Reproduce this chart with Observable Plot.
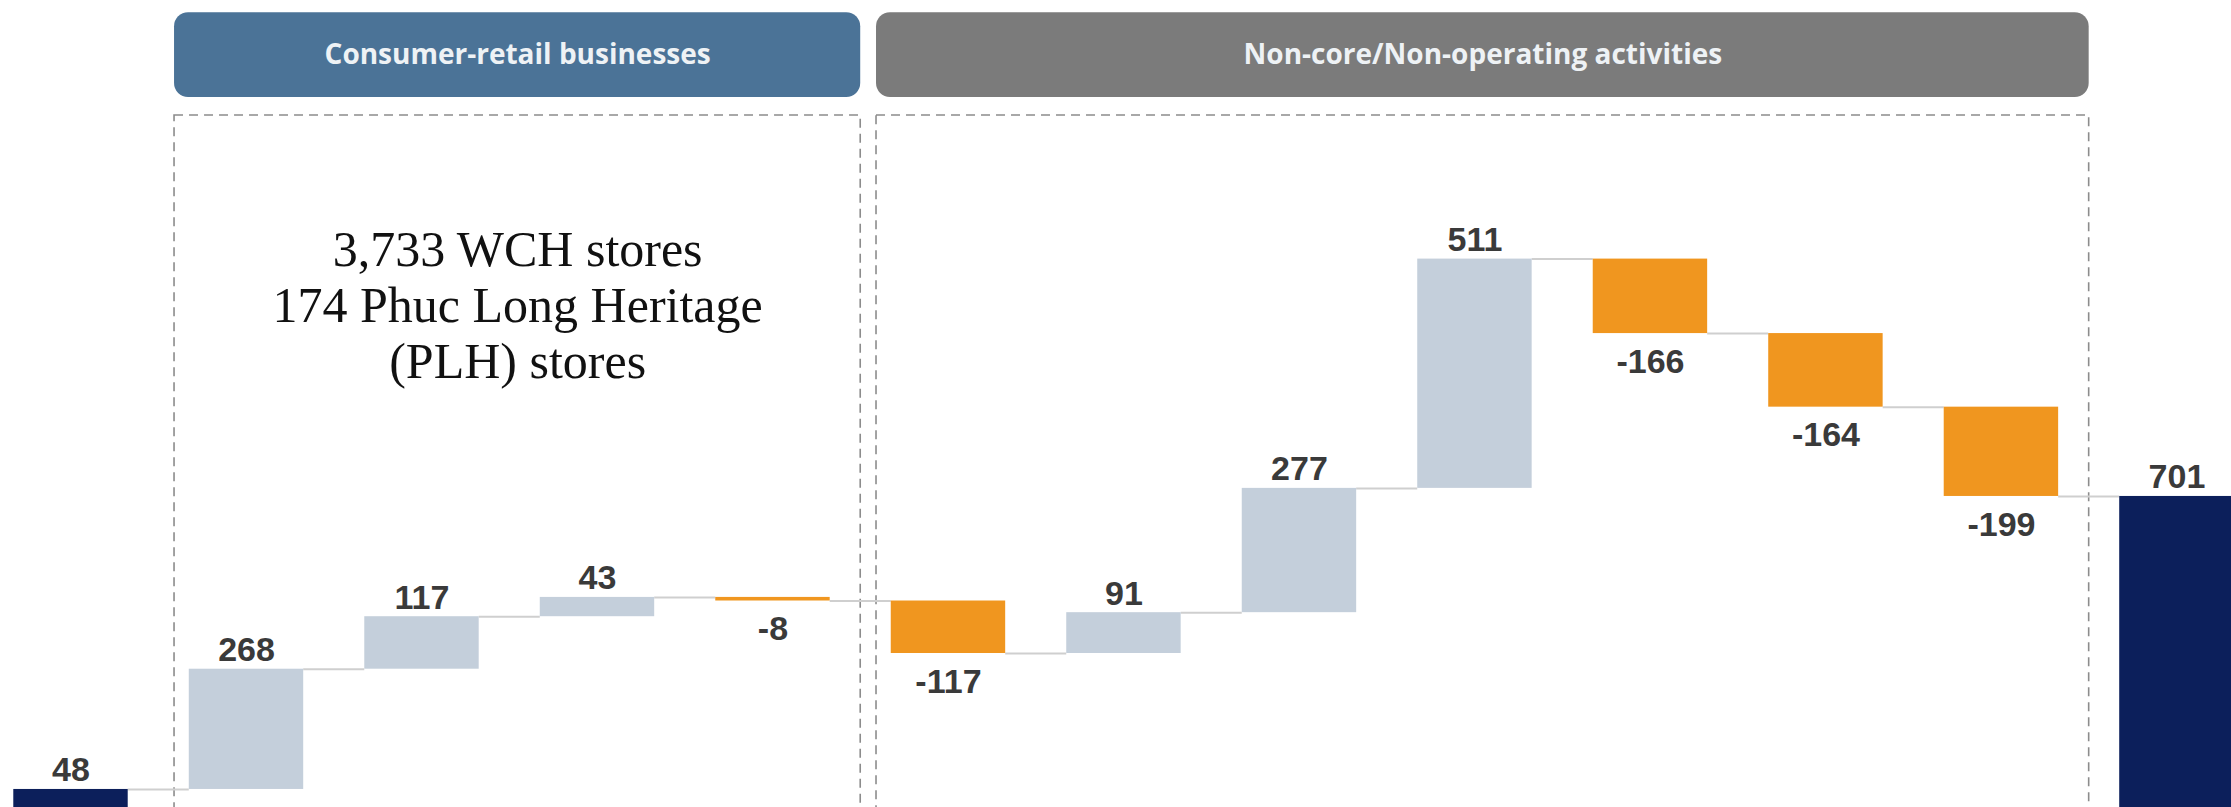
<!DOCTYPE html>
<html>
<head>
<meta charset="utf-8">
<script src="https://cdn.jsdelivr.net/npm/d3@7"></script>
<script src="https://cdn.jsdelivr.net/npm/@observablehq/plot@0.6"></script>
<style>
  html, body { margin: 0; padding: 0; background: #ffffff; }
  #chart svg { display: block; }
</style>
</head>
<body>
<div id="chart"></div>
<script>
// ---- Data ----
const categories = ["Start", "Retail 1", "Retail 2", "Retail 3", "Retail 4",
  "Non-core 1", "Non-core 2", "Non-core 3", "Non-core 4", "Non-core 5", "Non-core 6", "Non-core 7", "End"];
const values = [48, 268, 117, 43, -8, -117, 91, 277, 511, -166, -164, -199, 701];
const kinds = ["total", "delta", "delta", "delta", "delta", "delta", "delta", "delta",
  "delta", "delta", "delta", "delta", "total"];
const panelNames = ["Consumer-retail businesses", "Non-core/Non-operating activities"];
const panelFirst = [1, 5];
const panelLast = [4, 11];
const annotationLines = ["3,733 WCH stores", "174 Phuc Long Heritage", "(PLH) stores"];

// ---- Layout / style constants ----
const W = 2231, H = 807;
const barHalf = 0.326;
const colors = {total: "#0c1f5b", up: "#c4cfdb", down: "#f0961f"};
const panelFills = ["#4b7397", "#7b7b7b"];
const padL = 0.41, padR = 0.5;
const headerBottom = 1590, headerTop = 1779, boxTop = 1550, boxBottom = -20;
const labelFont = {fontFamily: "Liberation Sans", fontWeight: 700, fontSize: 34, fill: "#3a3a3a"};

// ---- Derived rows ----
let run = 0;
const rows = categories.map((c, i) => {
  const v = values[i];
  let y1, y2;
  if (kinds[i] === "total") { y1 = 0; y2 = v; run = v; }
  else { y1 = run; y2 = run + v; run += v; }
  const fill = kinds[i] === "total" ? colors.total : (v >= 0 ? colors.up : colors.down);
  return {i, c, v, y1, y2, end: run, fill, label: String(v)};
});
const connectors = rows.slice(0, -1).map(r => ({x1: r.i + barHalf, x2: r.i + 1 - barHalf, y: r.end}));
const upLabels = rows.filter(r => r.v >= 0);
const downLabels = rows.filter(r => r.v < 0);
const panels = panelNames.map((name, k) => ({
  name, fill: panelFills[k], x1: panelFirst[k] - padL, x2: panelLast[k] + padR
}));

const chart = Plot.plot({
  width: W,
  height: H,
  margin: 0,
  style: {background: "#ffffff"},
  x: {type: "linear", domain: [-0.4017, 12.311], axis: null},
  y: {domain: [7.8, 1806.3], axis: null},
  marks: [
    // panel headers
    Plot.rect(panels, {x1: "x1", x2: "x2", y1: headerBottom, y2: headerTop, fill: "fill", rx: 14}),
    Plot.text(panels, {x: d => (d.x1 + d.x2) / 2, y: (headerBottom + headerTop) / 2, text: "name",
      fill: "#eef2f5", fontFamily: "Open Sans", fontWeight: 700, fontSize: 28}),
    // dashed panel boxes
    Plot.rect(panels, {x1: "x1", x2: "x2", y1: boxBottom, y2: boxTop, fill: "none",
      stroke: "#8c8c8c", strokeWidth: 1.6, strokeDasharray: "9,6"}),
    // annotation
    Plot.text([annotationLines.join("\n")], {x: (panels[0].x1 + panels[0].x2) / 2, y: 1129, text: d => d,
      fontFamily: "Liberation Serif", fontSize: 50, lineHeight: 1.12, fill: "#111111"}),
    // connectors
    Plot.ruleY(connectors, {x1: "x1", x2: "x2", y: "y", stroke: "#cfcfcf", strokeWidth: 2}),
    // bars
    Plot.rect(rows, {x1: d => d.i - barHalf, x2: d => d.i + barHalf, y1: "y1", y2: "y2", fill: "fill"}),
    // labels
    Plot.text(upLabels, {x: "i", y: d => Math.max(d.y1, d.y2), text: "label",
      lineAnchor: "bottom", dy: -8, ...labelFont}),
    Plot.text(downLabels, {x: "i", y: d => Math.min(d.y1, d.y2), text: "label",
      lineAnchor: "top", dy: 15, ...labelFont})
  ]
});
document.getElementById("chart").appendChild(chart);
</script>
</body>
</html>
